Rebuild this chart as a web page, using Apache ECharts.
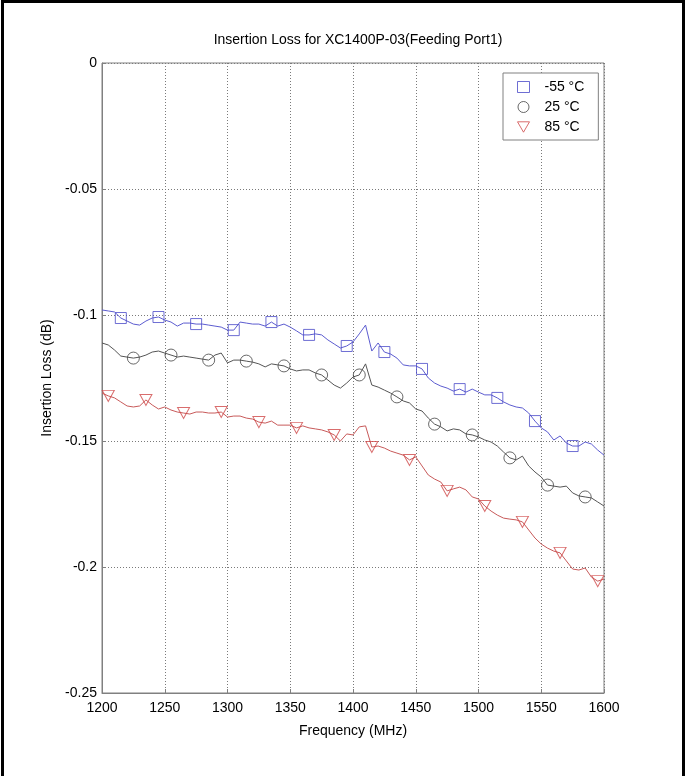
<!DOCTYPE html>
<html>
<head>
<meta charset="utf-8">
<script src="https://cdn.jsdelivr.net/npm/echarts@6/dist/echarts.min.js"></script>
<style>
html,body{margin:0;padding:0;background:#fff;}
#chart{width:691px;height:776px;}
</style>
</head>
<body>
<div id="chart"></div>
<script>
// Frequency grid (MHz)
const freq = [1200,1205,1210,1215,1220,1225,1230,1235,1240,1245,
  1250,1255,1260,1265,1270,1275,1280,1285,1290,1295,
  1300,1305,1310,1315,1320,1325,1330,1335,1340,1345,
  1350,1355,1360,1365,1370,1375,1380,1385,1390,1395,
  1400,1405,1410,1415,1420,1425,1430,1435,1440,1445,
  1450,1455,1460,1465,1470,1475,1480,1485,1490,1495,
  1500,1505,1510,1515,1520,1525,1530,1535,1540,1545,
  1550,1555,1560,1565,1570,1575,1580,1585,1590,1595,
  1600];

// Insertion loss (dB) at -55 °C
const lossM55 = [-0.0980,-0.0984,-0.0988,-0.1012,-0.1024,-0.1036,-0.1040,-0.1024,-0.1012,-0.1008,
  -0.1020,-0.1028,-0.1044,-0.1032,-0.1032,-0.1036,-0.1036,-0.1040,-0.1044,-0.1048,
  -0.1060,-0.1060,-0.1028,-0.1032,-0.1036,-0.1036,-0.1044,-0.1028,-0.1044,-0.1036,
  -0.1048,-0.1063,-0.1079,-0.1079,-0.1075,-0.1079,-0.1099,-0.1115,-0.1131,-0.1123,
  -0.1107,-0.1075,-0.1040,-0.1143,-0.1111,-0.1147,-0.1155,-0.1171,-0.1198,-0.1202,
  -0.1202,-0.1214,-0.1250,-0.1270,-0.1282,-0.1290,-0.1302,-0.1294,-0.1306,-0.1294,
  -0.1306,-0.1317,-0.1317,-0.1329,-0.1345,-0.1357,-0.1365,-0.1369,-0.1389,-0.1421,
  -0.1448,-0.1464,-0.1496,-0.1480,-0.1508,-0.1520,-0.1520,-0.1504,-0.1512,-0.1536,
  -0.1556];

// Insertion loss (dB) at 25 °C
const loss25 = [-0.1111,-0.1119,-0.1139,-0.1163,-0.1167,-0.1171,-0.1167,-0.1159,-0.1147,-0.1143,
  -0.1151,-0.1159,-0.1167,-0.1163,-0.1167,-0.1171,-0.1175,-0.1179,-0.1159,-0.1151,
  -0.1190,-0.1179,-0.1179,-0.1183,-0.1187,-0.1194,-0.1206,-0.1194,-0.1198,-0.1202,
  -0.1214,-0.1222,-0.1218,-0.1218,-0.1230,-0.1238,-0.1258,-0.1278,-0.1290,-0.1270,
  -0.1246,-0.1238,-0.1194,-0.1278,-0.1286,-0.1298,-0.1310,-0.1325,-0.1341,-0.1349,
  -0.1373,-0.1381,-0.1409,-0.1433,-0.1444,-0.1460,-0.1452,-0.1456,-0.1472,-0.1476,
  -0.1484,-0.1496,-0.1504,-0.1520,-0.1544,-0.1567,-0.1575,-0.1560,-0.1599,-0.1623,
  -0.1643,-0.1675,-0.1679,-0.1683,-0.1679,-0.1706,-0.1718,-0.1722,-0.1726,-0.1742,
  -0.1758];

// Insertion loss (dB) at 85 °C
const loss85 = [-0.1310,-0.1321,-0.1329,-0.1345,-0.1361,-0.1365,-0.1361,-0.1337,-0.1357,-0.1373,
  -0.1365,-0.1377,-0.1385,-0.1389,-0.1393,-0.1385,-0.1385,-0.1389,-0.1389,-0.1385,
  -0.1405,-0.1401,-0.1401,-0.1409,-0.1413,-0.1425,-0.1429,-0.1421,-0.1437,-0.1437,
  -0.1437,-0.1448,-0.1440,-0.1448,-0.1452,-0.1456,-0.1464,-0.1476,-0.1500,-0.1472,
  -0.1476,-0.1444,-0.1440,-0.1524,-0.1520,-0.1528,-0.1540,-0.1548,-0.1556,-0.1575,
  -0.1563,-0.1599,-0.1635,-0.1651,-0.1663,-0.1698,-0.1690,-0.1683,-0.1694,-0.1722,
  -0.1730,-0.1758,-0.1778,-0.1794,-0.1806,-0.1810,-0.1813,-0.1821,-0.1853,-0.1885,
  -0.1909,-0.1925,-0.1937,-0.1944,-0.1976,-0.2008,-0.2012,-0.2004,-0.2040,-0.2056,
  -0.2048];

// Frequencies at which markers are drawn
const markM55 = [1215,1245,1275,1305,1335,1365,1395,1425,1455,1485,1515,1545,1575];
const mark25  = [1225,1255,1285,1315,1345,1375,1405,1435,1465,1495,1525,1555,1585];
const mark85  = [1205,1235,1265,1295,1325,1355,1385,1415,1445,1475,1505,1535,1565,1595];

// Series names and tick labels
const seriesNames = ['-55 °C', '25 °C', '85 °C'];
const xTicks = [1200,1250,1300,1350,1400,1450,1500,1550,1600];
const yTickValues = [-0.25,-0.2,-0.15,-0.1,-0.05,0];
const yTickLabels = ['-0.25','-0.2','-0.15','-0.1','-0.05','0'];
const titleText = 'Insertion Loss for XC1400P-03(Feeding Port1)';
const xName = 'Frequency (MHz)';
const yName = 'Insertion Loss (dB)';

const FONT = 'Liberation Sans, Arial, sans-serif';

function pairs(vals) { return freq.map((f, i) => [f, vals[i]]); }
function marks(fs, vals) { return fs.map(f => [f, vals[freq.indexOf(f)]]); }

const DOWN_TRI = 'path://M0,0L20,0L10,17.3Z';
const lineColors = ['#5c5cd0', '#555555', '#c85a5a'];
const markColors = ['#4a4ac8', '#444444', '#d04848'];
const symbols = ['rect', 'circle', DOWN_TRI];
const symbolSizes = [[11, 11], [12, 12], [12, 11]];
const valueSets = [lossM55, loss25, loss85];
const markSets = [markM55, mark25, mark85];

const series = [];
for (let k = 0; k < 3; k++) {
  series.push({
    name: seriesNames[k] + ' line',
    type: 'line',
    data: pairs(valueSets[k]),
    showSymbol: false,
    symbol: 'none',
    lineStyle: { color: lineColors[k], width: 1 },
    itemStyle: { color: lineColors[k] },
    silent: true,
    z: 2
  });
}
for (let k = 0; k < 3; k++) {
  series.push({
    name: seriesNames[k],
    type: 'scatter',
    data: marks(markSets[k], valueSets[k]),
    symbol: symbols[k],
    symbolSize: symbolSizes[k],
    itemStyle: { color: 'rgba(0,0,0,0)', borderColor: markColors[k], borderWidth: 1 },
    silent: true,
    z: 3
  });
}

const chart = echarts.init(document.getElementById('chart'), null, { renderer: 'canvas' });
chart.setOption({
  animation: false,
  backgroundColor: '#ffffff',
  title: {
    text: titleText,
    left: 353,
    textAlign: 'center',
    top: 28,
    textStyle: { fontFamily: FONT, fontSize: 14, fontWeight: 'normal', color: '#000' }
  },
  grid: {
    left: 102, right: 87, top: 63, bottom: 83,
    show: true, borderColor: '#808080', borderWidth: 1, backgroundColor: '#fff'
  },
  legend: {
    orient: 'vertical',
    left: 503, top: 73,
    data: seriesNames.map((n, k) => ({
      name: n,
      icon: symbols[k],
      itemStyle: { color: 'rgba(0,0,0,0)', borderColor: markColors[k], borderWidth: 1 }
    })),
    itemWidth: 12, itemHeight: 11, itemGap: 6,
    padding: [7, 14, 6, 14],
    borderColor: '#808080', borderWidth: 1, backgroundColor: '#fff',
    textStyle: { fontFamily: FONT, fontSize: 14, color: '#000', padding: [0, 0, 0, 10] }
  },
  xAxis: {
    type: 'value', min: 1200, max: 1600, interval: 50,
    name: xName, nameLocation: 'middle', nameGap: 31,
    nameTextStyle: { fontFamily: FONT, fontSize: 14, color: '#000' },
    axisLine: { onZero: false, lineStyle: { color: '#808080', width: 1 } },
    axisTick: { inside: true, length: 4, lineStyle: { color: '#808080' } },
    axisLabel: { fontFamily: FONT, fontSize: 14, color: '#000', margin: 8,
      formatter: v => (xTicks.indexOf(v) >= 0 ? String(v) : '') },
    splitLine: { show: true, lineStyle: { color: '#7a7a7a', type: [1, 2], width: 1 } }
  },
  yAxis: {
    type: 'value', min: -0.25, max: 0, interval: 0.05,
    name: yName, nameLocation: 'middle', nameGap: 46, nameRotate: 90,
    nameTextStyle: { fontFamily: FONT, fontSize: 14, color: '#000' },
    axisLine: { show: true, onZero: false, lineStyle: { color: '#808080', width: 1 } },
    axisTick: { show: true, inside: true, length: 4, lineStyle: { color: '#808080' } },
    axisLabel: { fontFamily: FONT, fontSize: 14, color: '#000', margin: 5,
      formatter: v => {
        for (let i = 0; i < yTickValues.length; i++) {
          if (Math.abs(yTickValues[i] - v) < 1e-9) return yTickLabels[i];
        }
        return '';
      } },
    splitLine: { show: true, lineStyle: { color: '#7a7a7a', type: [1, 2], width: 1 } }
  },
  graphic: [
    { type: 'rect', left: 1, top: 0, shape: { width: 3, height: 776 }, style: { fill: '#000' }, silent: true },
    { type: 'rect', left: 1, top: 0, shape: { width: 684, height: 3 }, style: { fill: '#000' }, silent: true },
    { type: 'rect', left: 682, top: 0, shape: { width: 3, height: 776 }, style: { fill: '#000' }, silent: true }
  ],
  series: series
});
</script>
</body>
</html>
